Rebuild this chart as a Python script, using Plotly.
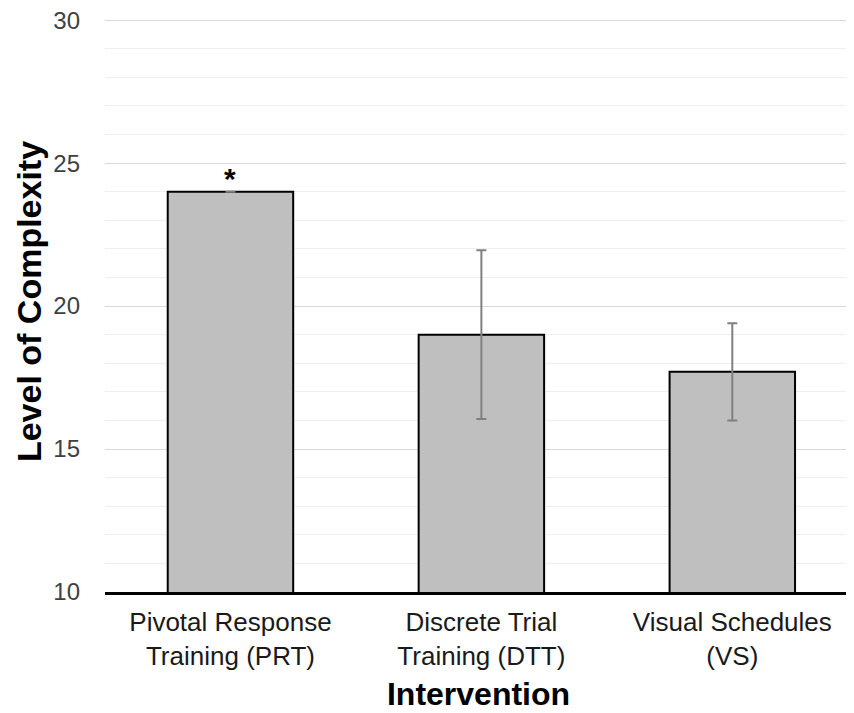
import plotly.graph_objects as go

categories = ["Pivotal Response<br>Training (PRT)", "Discrete Trial<br>Training (DTT)", "Visual Schedules<br>(VS)"]
means = [24.0, 19.0, 17.7]
errors = [0.0, 2.95, 1.7]
significance = ["*", "", ""]
y_ticks = [10, 15, 20, 25, 30]

FONT = "Liberation Sans, Arial, sans-serif"

fig = go.Figure()
fig.add_trace(go.Bar(
    x=categories,
    y=means,
    width=0.5,
    marker=dict(color="#bfbfbf", line=dict(color="#000000", width=2)),
    error_y=dict(type="data", array=errors, visible=True, color="#808080", thickness=2, width=5),
    showlegend=False,
))

for cat, m, e, s in zip(categories, means, errors, significance):
    if s:
        fig.add_annotation(x=cat, y=m + e, text="<b>" + s + "</b>", showarrow=False, yanchor="middle", yshift=13,
                           font=dict(family=FONT, size=30, color="#000000"))

# page body adds an 8px offset; the figure is sized to fit the 854x713 window
fig.update_layout(
    width=846, height=705,
    margin=dict(l=97, r=2, t=3, b=121),
    paper_bgcolor="white", plot_bgcolor="white",
    bargap=0.5,
)
fig.update_xaxes(
    range=[-0.5, 2.477], automargin=False,
    showline=True, linecolor="#000000", linewidth=3,
    ticks="", ticklabelstandoff=5,
    tickfont=dict(family=FONT, size=26, color="#1a1a1a"),
    title=dict(text="<b>Intervention</b>", standoff=13,
               font=dict(family=FONT, size=32, color="#000000")),
)
fig.update_yaxes(
    range=[10, 30.32], tickvals=y_ticks, ticktext=[str(v) for v in y_ticks],
    automargin=False, ticklabeloverflow="allow",
    showgrid=True, gridcolor="#d9d9d9", gridwidth=1,
    minor=dict(dtick=1, showgrid=True, gridcolor="#eeeeee", gridwidth=1),
    zeroline=False, showline=False, ticks="",
    ticklabelstandoff=24,
    tickfont=dict(family=FONT, size=24, color="#404040"),
    title=dict(text="<b>Level of Complexity</b>", standoff=1,
               font=dict(family=FONT, size=34, color="#000000")),
)

fig.write_html("out.html")
